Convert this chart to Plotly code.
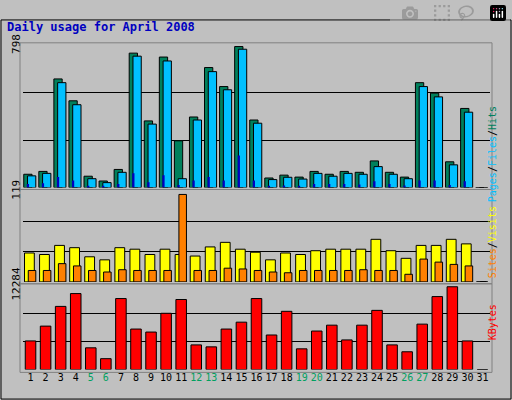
import plotly.graph_objects as go

days = list(range(1, 32))
hits = [75,91,611,488,64,37,102,756,375,734,263,397,675,568,793,380,54,70,59,91,75,91,86,150,86,59,590,531,145,445,0]
files = [66,80,590,466,50,28,86,739,357,712,50,380,652,550,778,362,45,58,48,80,64,80,75,118,75,50,568,510,128,424,0]
pages = [20,25,60,40,10,8,20,80,30,70,15,40,60,40,180,40,8,12,10,20,20,20,18,35,20,12,40,40,15,35,0]
visits = [38,36,48,45,33,29,45,43,36,43,36,34,46,52,43,39,29,38,36,41,43,43,43,56,41,31,48,48,56,50,0]
sites = [15,15,24,21,15,13,16,15,15,15,115,15,15,18,17,15,13,12,15,15,15,15,16,15,15,10,30,26,23,21,0]
kbytes = [4190,6360,9250,11130,3180,1590,10400,5930,5490,8240,10260,3610,3320,5930,6940,10400,5060,8530,3030,5640,6500,4340,6500,8670,3610,2600,6650,10690,12130,4190,0]
day_labels = [str(d) for d in days]
weekend = {5,6,12,13,19,20,26,27}

def ypd(top, bot):
    return [1 - bot/400, 1 - top/400]

fig = go.Figure()
fig.add_bar(x=days, y=hits, xaxis="x", yaxis="y", marker=dict(color="#00805C", line=dict(color="black", width=1)), width=0.55, offset=-0.45)
fig.add_bar(x=days, y=files, xaxis="x", yaxis="y", marker=dict(color="#00C0FF", line=dict(color="black", width=1)), width=0.55, offset=-0.2)
fig.add_bar(x=days, y=pages, xaxis="x", yaxis="y", marker=dict(color="#0000C0", line=dict(width=0)), width=0.15, offset=-0.25)
fig.add_bar(x=days, y=visits, xaxis="x2", yaxis="y2", marker=dict(color="#FFFF00", line=dict(color="black", width=1)), width=0.65, offset=-0.4)
fig.add_bar(x=days, y=sites, xaxis="x2", yaxis="y2", marker=dict(color="#FF8000", line=dict(color="black", width=1)), width=0.5, offset=-0.15)
fig.add_bar(x=days, y=kbytes, xaxis="x3", yaxis="y3", marker=dict(color="#FF0000", line=dict(color="black", width=1)), width=0.7, offset=-0.35)

font = dict(family="DejaVu Sans Mono", size=11, color="black")
xd = [23/512, 490/512]
def yax(mx, dom):
    return dict(domain=dom, range=[0, mx], tickvals=[mx/3, 2*mx/3, mx], ticktext=["", "", str(mx)],
                tickangle=-90, gridcolor="black", showline=False, zeroline=False, tickfont=font, fixedrange=True)
xcommon = dict(domain=xd, range=[0.5, 31.5], showgrid=False, zeroline=False, fixedrange=True)
tt = [f"<span style='color:#00A060'>{l}</span>" if d in weekend else l for d, l in zip(days, day_labels)]
fig.update_layout(
    width=512, height=400, margin=dict(l=0, r=0, t=0, b=0), showlegend=False,
    paper_bgcolor="#C0C0C0", plot_bgcolor="#C0C0C0", barmode="overlay", font=font,
    xaxis=dict(anchor="y", showticklabels=False, **xcommon),
    xaxis2=dict(anchor="y2", showticklabels=False, **xcommon),
    xaxis3=dict(anchor="y3", tickvals=days, ticktext=tt, tickfont=dict(family="DejaVu Sans Mono", size=10, color="black"),
                tickangle=0, ticks="", **xcommon),
    yaxis=dict(anchor="x", **yax(798, ypd(28, 177))),
    yaxis2=dict(anchor="x2", **yax(119, ypd(181, 276))),
    yaxis3=dict(anchor="x3", **yax(12284, ypd(280, 368))),
)
for top, bot in [(25, 179), (179, 278), (278, 371)]:
    fig.add_shape(type="rect", xref="paper", yref="paper", x0=20/512, x1=492/512, y0=1-bot/400, y1=1-top/400,
                  line=dict(color="#808080", width=1))
fig.add_shape(type="rect", xref="paper", yref="paper", x0=1/512, x1=511/512, y0=1/400, y1=399/400, line=dict(color="black", width=1))
fig.add_annotation(text="<b>Daily usage for April 2008</b>", x=5/512, y=1-8/400, xref="paper", yref="paper",
                   xanchor="left", yanchor="middle", showarrow=False, font=dict(family="DejaVu Sans Mono", size=12, color="#0000C0"))
sfont = dict(family="DejaVu Sans Mono", size=10, color="black")
fig.add_annotation(text="<span style='color:#00C0FF'>Pages</span>/<span style='color:#00C0FF'>Files</span>/<span style='color:#00805C'>Hits</span>",
                   x=500/512, y=1-90/400, xref="paper", yref="paper", textangle=-90, showarrow=False, font=sfont)
fig.add_annotation(text="<span style='color:#FF8000'>Sites</span>/<span style='color:#FFFF00'>Visits</span>",
                   x=500/512, y=1-235/400, xref="paper", yref="paper", textangle=-90, showarrow=False, font=sfont)
fig.add_annotation(text="<span style='color:#FF0000'>KBytes</span>",
                   x=500/512, y=1-340/400, xref="paper", yref="paper", textangle=-90, showarrow=False, font=sfont)
fig.write_html("out.html")
with open("out.html") as f:
    html = f.read()
html = html.replace("<head>", "<head><style>html,body{margin:0;padding:0;overflow:hidden}</style>", 1)
with open("out.html", "w") as f:
    f.write(html)
